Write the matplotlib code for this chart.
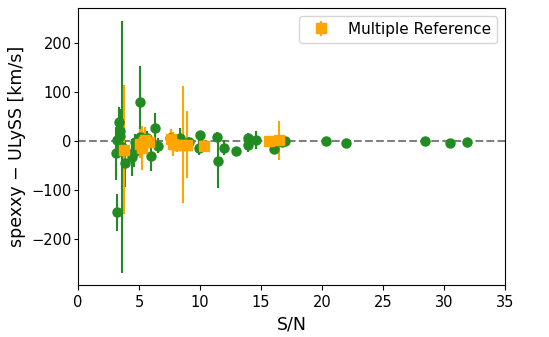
import matplotlib
matplotlib.use("Agg")
import matplotlib.pyplot as plt

# single-reference stars (green circles)
sn_single = [3.19, 3.11, 3.2, 3.39, 3.47, 3.45, 3.63, 3.88, 4.42, 4.56, 4.7,
             5.1, 5.1, 5.65, 6.0, 6.28, 6.52, 7.56, 8.38, 9.1, 9.96, 9.9,
             11.38, 11.5, 12.0, 12.97, 13.92, 13.92, 14.6, 16.1, 16.7, 17.0,
             20.3, 22.0, 28.45, 30.5, 31.9]
dv_single = [-146, -26, 2, 38, 20, 10, -12, -46, -34, -24, -2,
             80, 7, 5, -31, 26, -10, 5, 5, -3, 12, -14,
             7, -42, -14, -20, 5, -8, 2, -17, -3, -1,
             -1, -4, -1, -4, -2]
err_single = [38, 55, 30, 30, 45, 20, 257, 48, 38, 30, 15,
              72, 20, 15, 30, 30, 15, 10, 20, 10, 8, 15,
              10, 55, 15, 6, 10, 15, 18, 8, 6, 5,
              4, 4, 4, 4, 4]

# multiple-reference stars (orange squares)
sn_multi = [3.74, 5.05, 5.24, 5.38, 5.5, 5.8, 7.6, 7.8, 8.1, 8.6, 8.9, 10.3, 15.65, 16.45]
dv_multi = [-18, -6, -14, -3, 2, -3, 3, -7, -8, -8, -8, -10, 0, 1]
err_multi = [132, 30, 45, 20, 25, 12, 20, 25, 15, 119, 68, 12, 8, 40]

fig = plt.figure(figsize=(5.49, 3.37), dpi=100)
ax = fig.add_axes([0.142, 0.154, 0.778, 0.822])

ax.axhline(0, color="gray", linestyle="--", zorder=0)
ax.errorbar(sn_single, dv_single, yerr=err_single, fmt="o", color="forestgreen",
            markersize=6.5)
ax.errorbar(sn_multi, dv_multi, yerr=err_multi, fmt="s", color="orange",
            markersize=6.5, label="Multiple Reference")

ax.set_xlim(0, 35)
ax.set_xlabel("S/N", fontsize=12.5)
ax.set_ylabel("spexxy \u2212 ULySS [km/s]", fontsize=12.5)
ax.tick_params(labelsize=10.5)
ax.tick_params(axis="y", length=3, pad=1.5)
ax.legend(loc="upper right", fontsize=11)

fig.savefig("out.png", dpi=100)
